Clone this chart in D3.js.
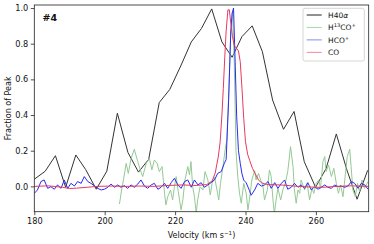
<!DOCTYPE html>
<html>
<head>
<meta charset="utf-8">
<script src="https://d3js.org/d3.v7.min.js"></script>
<style>
  body { margin: 0; background: #fff; }
  text { font-family: "DejaVu Sans", sans-serif; }
</style>
</head>
<body>
<script>
// H40alpha recombination line (coarse channels)
const h40Vel = [180.0, 183.1, 186.0, 188.9, 191.8, 194.6, 197.6, 200.6, 203.6, 206.6, 209.6, 212.5, 215.5, 218.5,
  221.6, 224.6, 227.5, 230.4, 233.3, 236.2, 239.0, 241.9, 244.8, 247.7, 250.8, 253.8, 256.7, 259.9, 262.9,
  265.8, 268.8, 271.7, 274.7]
const h40Val = [0.04, 0.085, 0.172, -0.005, 0.176, 0.094, -0.016, 0.085, 0.41, 0.19, 0.08, 0.152, 0.47, 0.544,
  0.675, 0.81, 0.886, 0.995, 0.81, 0.724, 0.84, 0.90, 0.755, 0.484, 0.32, 0.42, 0.138, -0.005, 0.10,
  0.294, 0.092, -0.072, 0.09]

// H13CO+
const h13Vel = [204.2, 204.8, 205.4, 206.1, 206.7, 207.5, 208.4, 209.4, 210.1, 210.8, 211.8, 212.7, 213.4, 214.1,
  214.9, 215.5, 216.3, 217.0, 217.4, 217.9, 218.7, 219.3, 219.8, 220.3, 220.9, 221.7, 222.2, 222.8, 223.6,
  224.1, 224.5, 225.0, 225.5, 226.0, 226.4, 227.1, 227.9, 228.5, 229.3, 230.0, 230.5, 231.2, 231.9, 232.4,
  232.9, 233.6, 234.2, 234.7, 235.3, 235.8, 236.3, 236.8, 237.3, 237.8, 238.3, 238.8, 239.5, 240.2, 240.7,
  241.1, 241.8, 242.6, 243.0, 243.7, 244.3, 244.9, 245.4, 246.2, 246.8, 247.3, 247.8, 248.2, 248.7, 249.2,
  250.0, 250.6, 251.3, 252.0, 252.8, 253.5, 253.9, 254.4, 254.9, 255.4, 255.8, 256.8, 257.5, 258.2, 258.9,
  259.4, 260.1, 260.8, 261.3, 262.0, 262.5, 262.9, 263.6, 264.4, 265.1, 265.8, 266.4, 267.0, 267.7, 268.3,
  268.9, 269.6, 270.0, 270.5, 271.2, 271.8, 272.4, 273.1, 273.8, 274.8]
const h13Val = [-0.099, -0.020, 0.045, 0.129, 0.073, 0.157, 0.208, 0.139, 0.092, 0.055, 0.129, 0.157, 0.092, 0.148,
  0.129, 0.083, 0.111, -0.039, -0.104, -0.058, -0.020, -0.076, -0.002, 0.055, -0.030, -0.132, -0.076, 0.036, 0.111,
  0.064, 0.139, -0.002, -0.058, -0.151, -0.076, -0.002, -0.020, 0.083, 0.036, -0.048, 0.017, 0.051, -0.020, -0.076,
  0.017, 0.111, 0.204, 0.26, 0.55, 0.85, 0.98, 0.7, 0.2, 0.055, -0.039, -0.095, 0.017, -0.039, -0.132,
  -0.076, 0.036, 0.088, 0.036, 0.073, 0.036, 0.008, -0.076, -0.020, 0.092, 0.055, -0.076, -0.151, -0.076, -0.011,
  -0.076, -0.020, 0.017, 0.083, 0.223, 0.111, -0.020, -0.095, -0.020, -0.039, 0.036, -0.020, 0.017, -0.076, -0.011,
  -0.039, 0.017, 0.036, -0.011, 0.139, 0.167, 0.083, 0.120, 0.055, 0.101, 0.017, -0.039, 0.008, -0.058, 0.055,
  0.167, 0.208, 0.111, -0.020, -0.058, 0.017, -0.030, 0.036, -0.011, 0.027]

// HCO+
const hcoVel = [180.0, 180.9, 181.9, 182.8, 183.8, 184.7, 185.7, 186.6, 187.6, 188.5, 189.5, 190.4, 191.4, 192.3,
  193.3, 194.2, 195.2, 196.1, 197.1, 198.0, 199.0, 199.9, 200.9, 201.8, 202.8, 203.7, 204.6, 205.6, 206.5,
  207.5, 208.4, 209.4, 210.3, 211.3, 212.2, 213.2, 214.1, 215.1, 216.0, 217.0, 217.9, 218.9, 219.8, 220.8,
  221.7, 222.7, 223.6, 224.6, 225.5, 226.5, 227.4, 228.3, 229.3, 230.2, 231.2, 232.1, 233.1, 234.0, 234.5,
  235.2, 235.8, 236.2, 236.6, 237.1, 237.5, 238.0, 238.5, 239.0, 239.5, 240.2, 241.1, 241.6, 242.6, 243.5,
  244.5, 245.4, 246.4, 247.3, 248.3, 249.2, 250.2, 251.1, 252.0, 253.0, 253.9, 254.9, 255.8, 256.8, 257.7,
  258.7, 259.6, 260.6, 261.5, 262.5, 263.4, 264.4, 265.3, 266.3, 267.2, 268.2, 269.1, 270.1, 271.0, 272.0,
  272.9, 273.9, 274.8]
const hcoVal = [-0.039, -0.020, 0.027, 0.036, -0.011, -0.002, -0.016, 0.008, -0.011, 0.036, -0.011, 0.017, 0.002, 0.027,
  0.017, 0.055, 0.027, 0.017, 0.002, -0.011, -0.020, -0.016, -0.005, 0.013, -0.005, 0.008, -0.005, 0.004, -0.011,
  0.008, -0.005, 0.013, 0.036, 0.002, -0.011, 0.008, 0.017, -0.016, -0.005, 0.017, -0.011, 0.021, 0.045, 0.008,
  -0.011, 0.027, 0.036, -0.005, 0.036, 0.008, 0.021, -0.005, 0.008, 0.021, 0.036, 0.073, 0.083, 0.13, 0.15,
  0.48, 0.86, 0.97, 1.0, 0.67, 0.39, 0.2, 0.13, 0.07, 0.035, 0.02, -0.022, -0.05, -0.02, 0.017,
  0.002, 0.008, 0.027, -0.011, 0.021, -0.011, 0.017, 0.036, -0.016, -0.005, 0.017, -0.005, 0.008, -0.011, 0.021,
  -0.020, -0.002, -0.016, -0.005, 0.008, -0.005, -0.011, 0.008, -0.002, 0.002, -0.005, 0.002, 0.027, 0.017, -0.011,
  0.017, 0.008, -0.016]

// CO
const coVel = [180, 184, 188, 190, 192, 195, 198, 202, 206, 210, 214, 218, 222, 226, 229, 230.5, 231.4, 232.3, 232.8,
  233.3, 233.7, 234.1, 234.5, 235.0, 235.4, 235.8, 236.3, 236.8, 237.4, 238.0, 238.5, 239.0, 239.5, 240.0,
  240.6, 241.2, 242.0, 242.8, 243.7, 244.6, 246, 250, 255, 260, 262, 266, 270, 275]
const coVal = [0.0, 0.003, -0.005, -0.012, -0.01, -0.005, 0.0, 0.002, 0.0, 0.002, 0.0, 0.005, 0.008, 0.005, 0.01, 0.03,
  0.075, 0.17, 0.25, 0.4, 0.55, 0.72, 0.87, 0.99, 0.99, 0.92, 0.84, 0.79, 0.775, 0.76, 0.70, 0.55, 0.38, 0.25,
  0.18, 0.145, 0.10, 0.07, 0.035, 0.02, 0.01, 0.008, 0.0, -0.005, -0.005, 0.0, 0.003, 0.0]

const xTicks = [180, 200, 220, 240, 260]
const yTicks = [0.0, 0.2, 0.4, 0.6, 0.8, 1.0]

const W = 374, H = 244
const m = { left: 34.3, right: 5.3, top: 5, bottom: 32.3 }

const svg = d3.select("body").append("svg").attr("width", W).attr("height", H)

const x = d3.scaleLinear().domain([180, 275]).range([m.left, W - m.right])
const y = d3.scaleLinear().domain([-0.142, 1.017]).range([H - m.bottom, m.top])

svg.append("clipPath").attr("id", "plotclip")
  .append("rect")
  .attr("x", m.left).attr("y", m.top)
  .attr("width", W - m.left - m.right).attr("height", H - m.top - m.bottom)

const line = d3.line().x(d => x(d[0])).y(d => y(d[1]))
const series = [
  { vel: h40Vel, val: h40Val, color: "#333333", lw: 1 },
  { vel: h13Vel, val: h13Val, color: "#94c994", lw: 1 },
  { vel: hcoVel, val: hcoVal, color: "#2a2af2", lw: 1 },
  { vel: coVel, val: coVal, color: "#e83a5c", lw: 1 }
]
const g = svg.append("g").attr("clip-path", "url(#plotclip)")
series.forEach(s => {
  g.append("path")
    .datum(s.vel.map((v, i) => [v, s.val[i]]))
    .attr("fill", "none")
    .attr("stroke", s.color)
    .attr("stroke-width", s.lw)
    .attr("stroke-linejoin", "round")
    .attr("d", line)
})

// axes
const xAxis = svg.append("g")
  .attr("transform", `translate(0,${H - m.bottom})`)
  .call(d3.axisBottom(x).tickValues(xTicks).tickFormat(d3.format("d")).tickSize(3.5).tickPadding(3))
const yAxis = svg.append("g")
  .attr("transform", `translate(${m.left},0)`)
  .call(d3.axisLeft(y).tickValues(yTicks).tickFormat(d3.format(".1f")).tickSize(3.5).tickPadding(2.5))
;[xAxis, yAxis].forEach(a => {
  a.select(".domain").remove()
  a.selectAll("text").attr("font-size", 8.2).attr("fill", "#111").style("font-family", "DejaVu Sans")
  a.selectAll("line").attr("stroke", "#222").attr("stroke-width", 0.8)
})

// frame
svg.append("rect")
  .attr("x", m.left).attr("y", m.top)
  .attr("width", W - m.left - m.right).attr("height", H - m.top - m.bottom)
  .attr("fill", "none").attr("stroke", "#222").attr("stroke-width", 0.8)

// labels
const xl = svg.append("text")
  .attr("x", (m.left + W - m.right) / 2).attr("y", 238)
  .attr("text-anchor", "middle").attr("font-size", 8).attr("fill", "#111")
xl.append("tspan").text("Velocity (km s")
xl.append("tspan").text("\u22121").attr("font-size", 5.6).attr("dy", -3.2)
xl.append("tspan").text(")").attr("dy", 3.2)

svg.append("text")
  .attr("transform", `translate(10.5,${(m.top + H - m.bottom) / 2}) rotate(-90)`)
  .attr("text-anchor", "middle").attr("font-size", 8).attr("fill", "#111")
  .text("Fraction of Peak")

svg.append("text")
  .attr("x", 42.5).attr("y", 20.8)
  .attr("font-size", 9.5).attr("font-weight", "bold").attr("fill", "#111")
  .text("#4")

// legend
const leg = svg.append("g")
leg.append("rect")
  .attr("x", 303).attr("y", 8.3).attr("width", 61.3).attr("height", 52.7)
  .attr("rx", 2).attr("fill", "white").attr("fill-opacity", 0.85)
  .attr("stroke", "#ccc").attr("stroke-width", 0.8)
const legItems = [
  { color: "#222", parts: [["H40", null], ["\u03b1", "it"]] },
  { color: "#a8d8a8", parts: [["H", null], ["13", "sup"], ["CO", "base"], ["+", "sup"]] },
  { color: "#8a8af2", parts: [["HCO", null], ["+", "sup"]] },
  { color: "#f08aa0", parts: [["CO", null]] }
]
legItems.forEach((it, i) => {
  const cy = 15 + i * 12.45
  leg.append("line")
    .attr("x1", 306.7).attr("x2", 321.7).attr("y1", cy).attr("y2", cy)
    .attr("stroke", it.color).attr("stroke-width", 1)
  const t = leg.append("text").attr("x", 328).attr("y", cy + 2.7)
    .attr("font-size", 7.5).attr("fill", "#111")
  let raised = false
  it.parts.forEach(([s, kind]) => {
    const ts = t.append("tspan").text(s)
    if (kind === "sup") {
      ts.attr("font-size", 5.2).attr("dy", raised ? 0 : -2.9)
      raised = true
    } else if (kind === "it") {
      ts.attr("font-style", "italic")
    } else if (raised) {
      ts.attr("dy", 2.9)
      raised = false
    }
  })
})
</script>
</body>
</html>
